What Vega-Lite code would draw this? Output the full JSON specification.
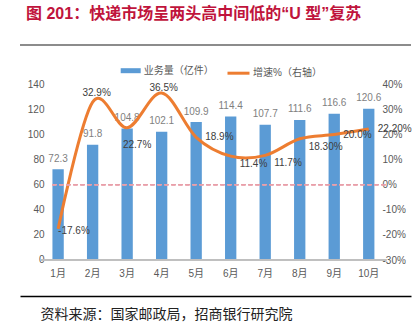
{
  "$schema": "https://vega.github.io/schema/vega-lite/v6.json",
  "width": 391,
  "height": 251,
  "autosize": {"type": "none"},
  "padding": {"left": 20, "top": 45, "right": 2, "bottom": 33},
  "background": "white",
  "title": {
    "text": "图 201：快递市场呈两头高中间低的“U 型”复苏",
    "anchor": "start",
    "frame": "group",
    "offset": 22,
    "dx": 6,
    "fontSize": 16,
    "fontWeight": "bold",
    "font": "Liberation Sans, Noto Sans CJK SC",
    "color": "#C0143C"
  },
  "data": {
    "values": [
      {"month": "1月", "volume": 72.3, "growth": -17.6, "label": "-17.6%"},
      {"month": "2月", "volume": 91.8, "growth": 32.9, "label": "32.9%"},
      {"month": "3月", "volume": 104.8, "growth": 22.7, "label": "22.7%"},
      {"month": "4月", "volume": 102.1, "growth": 36.5, "label": "36.5%"},
      {"month": "5月", "volume": 109.9, "growth": 18.9, "label": "18.9%"},
      {"month": "6月", "volume": 114.4, "growth": 11.4, "label": "11.4%"},
      {"month": "7月", "volume": 107.7, "growth": 11.7, "label": "11.7%"},
      {"month": "8月", "volume": 111.6, "growth": 18.3, "label": "18.30%"},
      {"month": "9月", "volume": 116.6, "growth": 20.0, "label": "20.0%"},
      {"month": "10月", "volume": 120.6, "growth": 22.2, "label": "22.20%"}
    ]
  },
  "config": {
    "view": {"stroke": null},
    "axis": {
      "grid": false,
      "ticks": false,
      "labelOverlap": false,
      "labelFont": "Liberation Sans, Noto Sans CJK SC",
      "labelFontSize": 10,
      "labelColor": "#595959"
    },
    "axisY": {"domain": false, "grid": false, "ticks": false},
    "legend": {
      "labelFont": "Liberation Sans, Noto Sans CJK SC",
      "labelFontSize": 10,
      "labelColor": "#595959",
      "padding": 0
    }
  },
  "layer": [
    {
      "data": {"values": [{"frame": 1}]},
      "mark": {"type": "rule", "color": "#666666", "strokeWidth": 1.5},
      "encoding": {
        "y": {"field": "frame", "type": "quantitative", "scale": {"domain": [0, 1], "nice": false, "zero": false}, "axis": null}
      }
    },
    {
      "encoding": {
        "x": {
          "field": "month",
          "type": "nominal",
          "sort": null,
          "scale": {"type": "band", "domain": ["1月","2月","3月","4月","5月","6月","7月","8月","9月","10月"], "paddingInner": 0.672, "paddingOuter": 1.445, "align": 0.47},
          "axis": {
            "orient": "bottom",
            "domainColor": "#000000",
            "domainWidth": 1.5,
            "labelPadding": -23,
            "labelBaseline": "middle",
            "labelAngle": 0,
            "title": "资料来源：国家邮政局，招商银行研究院",
            "titleX": 20,
            "titleY": 18,
            "titleAlign": "left",
            "titleAnchor": "start",
            "titleBaseline": "middle",
            "titleFont": "Noto Sans CJK SC",
            "titleFontSize": 14,
            "titleFontWeight": "normal",
            "titleColor": "#222222"
          }
        }
      },
      "layer": [
        {
          "mark": {"type": "bar"},
          "encoding": {
            "y": {
              "field": "volume",
              "type": "quantitative",
              "scale": {"domain": [-28.7, 171.3], "nice": false, "zero": false},
              "axis": {"orient": "left", "offset": -26, "values": [0,20,40,60,80,100,120,140], "tickCount": 12, "labelOverlap": false, "domain": false, "grid": false, "title": null}
            },
            "y2": {"datum": 0},
            "color": {
              "datum": "业务量（亿件）",
              "type": "nominal",
              "scale": {"range": ["#5B9BD5"]},
              "legend": {
                "orient": "none",
                "legendX": 100.7,
                "legendY": 15.7,
                "title": null,
                "symbolType": "M-1,-0.25H1V0.25H-1Z",
                "symbolSize": 400,
                "symbolStrokeWidth": 0,
                "labelOffset": 3
              }
            }
          }
        },
        {
          "mark": {"type": "rule", "color": "#BFBFBF", "strokeWidth": 1},
          "encoding": {
            "x": {"datum": "1月", "type": "nominal", "bandPosition": -1.0},
            "x2": {"datum": "10月", "bandPosition": 2.05},
            "y": {"datum": 0, "type": "quantitative"}
          }
        },
        {
          "mark": {"type": "text", "baseline": "middle", "dy": -10.5, "fontSize": 10, "color": "#7F7F7F", "font": "Liberation Sans"},
          "encoding": {
            "y": {"field": "volume", "type": "quantitative"},
            "text": {"field": "volume", "type": "quantitative", "format": ".1f"}
          }
        }
      ]
    },
    {
      "encoding": {
        "x": {
          "field": "month",
          "type": "nominal",
          "sort": null,
          "scale": {"type": "band", "domain": ["1月","2月","3月","4月","5月","6月","7月","8月","9月","10月"], "paddingInner": 0.672, "paddingOuter": 1.445, "align": 0.47},
          "axis": {"orient": "top", "domain": false, "labels": false, "title": null}
        }
      },
      "layer": [
        {
          "mark": {"type": "line", "interpolate": "cardinal", "strokeWidth": 3},
          "encoding": {
            "y": {
              "field": "growth",
              "type": "quantitative",
              "scale": {"domain": [-44.34, 55.66], "nice": false, "zero": false},
              "axis": {"orient": "right", "offset": -31, "values": [-30,-20,-10,0,10,20,30,40], "tickCount": 12, "labelOverlap": false, "labelExpr": "datum.value + '%'", "domain": false, "grid": false, "title": null}
            },
            "stroke": {
              "datum": "增速%（右轴）",
              "type": "nominal",
              "scale": {"range": ["#ED7D31"]},
              "legend": {
                "orient": "none",
                "legendX": 206,
                "legendY": 15.7,
                "title": null,
                "symbolType": "stroke",
                "symbolSize": 484,
                "symbolStrokeWidth": 3,
                "labelOffset": 2
              }
            }
          }
        },
        {
          "mark": {"type": "rule", "color": "#E8A0AA", "strokeDash": [4, 3], "strokeWidth": 1},
          "encoding": {
            "x": {"datum": "1月", "type": "nominal", "bandPosition": 0},
            "x2": {"datum": "10月", "bandPosition": 2.05},
            "y": {"datum": 0, "type": "quantitative"}
          }
        },
        {
          "transform": [{"filter": "datum.month == '2月'"}],
          "mark": {"type": "text", "align": "center", "baseline": "middle", "dx": 4, "dy": -9, "fontSize": 10, "color": "#404040", "font": "Liberation Sans"},
          "encoding": {"y": {"field": "growth", "type": "quantitative"}, "text": {"field": "label"}}
        },
        {
          "transform": [{"filter": "datum.month == '4月'"}],
          "mark": {"type": "text", "align": "center", "baseline": "middle", "dx": 2, "dy": -5, "fontSize": 10, "color": "#404040", "font": "Liberation Sans"},
          "encoding": {"y": {"field": "growth", "type": "quantitative"}, "text": {"field": "label"}}
        },
        {
          "transform": [{"filter": "datum.month == '3月'"}],
          "mark": {"type": "text", "align": "center", "baseline": "middle", "dx": 10, "dy": 17, "fontSize": 10, "color": "#404040", "font": "Liberation Sans"},
          "encoding": {"y": {"field": "growth", "type": "quantitative"}, "text": {"field": "label"}}
        },
        {
          "transform": [{"filter": "datum.month == '1月'"}],
          "mark": {"type": "text", "align": "left", "baseline": "middle", "dx": 0, "dy": 2, "fontSize": 10, "color": "#404040", "font": "Liberation Sans"},
          "encoding": {"y": {"field": "growth", "type": "quantitative"}, "text": {"field": "label"}}
        },
        {
          "transform": [{"filter": "datum.month == '5月' || datum.month == '9月' || datum.month == '10月'"}],
          "mark": {"type": "text", "align": "left", "baseline": "middle", "dx": 9, "dy": 0, "fontSize": 10, "color": "#404040", "font": "Liberation Sans"},
          "encoding": {"y": {"field": "growth", "type": "quantitative"}, "text": {"field": "label"}}
        },
        {
          "transform": [{"filter": "datum.month == '6月' || datum.month == '7月' || datum.month == '8月'"}],
          "mark": {"type": "text", "align": "left", "baseline": "middle", "dx": 9, "dy": 8, "fontSize": 10, "color": "#404040", "font": "Liberation Sans"},
          "encoding": {"y": {"field": "growth", "type": "quantitative"}, "text": {"field": "label"}}
        }
      ]
    }
  ],
  "resolve": {
    "scale": {"x": "independent", "y": "independent"},
    "axis": {"x": "independent", "y": "independent"}
  }
}
